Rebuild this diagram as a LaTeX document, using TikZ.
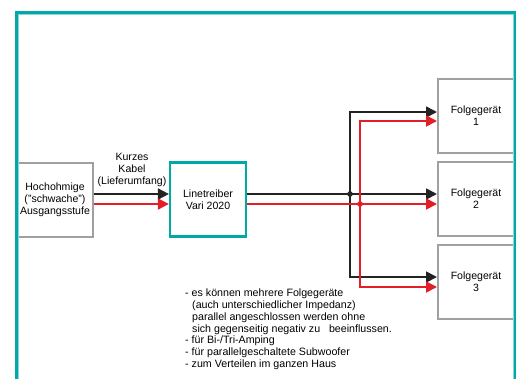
\documentclass[tikz,border=0pt]{standalone}
\usepackage{fontspec}
\setmainfont{Liberation Sans}
\usetikzlibrary{arrows.meta}
\definecolor{teal1}{RGB}{0,168,168}
\definecolor{gray1}{RGB}{160,160,160}
\definecolor{red1}{RGB}{228,30,38}
\definecolor{blk1}{RGB}{35,35,35}
\tikzset{
  box/.style={draw=gray1, line width=2bp, fill=white, minimum width=76bp, minimum height=74bp, inner sep=0pt, align=center, font=\fontsize{10.6}{12}\selectfont},
  tbox/.style={box, draw=teal1, line width=2.2bp},
  tip/.style={-{Triangle[length=11bp,width=11bp]}},
  tips/.style={{Triangle[length=11bp,width=11bp]}-{Triangle[length=11bp,width=11bp]}},
  blk/.style={draw=blk1, line width=1.8bp},
  rd/.style={draw=red1, line width=1.8bp},
  lbl/.style={align=center, inner sep=0pt, font=\fontsize{10.6}{12}\selectfont}
}
\begin{document}
\begin{tikzpicture}[x=1bp, y=-1bp]
\useasboundingbox (0,0) rectangle (520,378);
\clip (0,0) rectangle (520,378);
% boxes
\node[box] (src) at (55,199.5) {Hochohmige\\(\char`\"schwache\char`\")\\Ausgangsstufe};
\node[tbox] (lt) at (208,199.5) {Linetreiber\\Vari 2020};
\node[box] (f1) at (476,116) {Folgeger\"at\\1};
\node[box] (f2) at (476,199) {Folgeger\"at\\2};
\node[box] (f3) at (476,282) {Folgeger\"at\\3};
\node[lbl] (kab) at (132,170) {Kurzes\\Kabel\\(Lieferumfang)};
% cable to linetreiber
\draw[blk, tip] (src.east |- 0,194) -- (lt.west |- 0,194);
\draw[rd, tip] (src.east |- 0,204) -- (lt.west |- 0,204);
% distribution
\coordinate (jb) at (350,194);
\coordinate (jr) at (360,204);
\draw[blk, tips, line join=miter] (f1.west |- 0,112) -- (jb |- 0,112) -- (jb |- 0,277) -- (f3.west |- 0,277);
\draw[blk, tip] (lt.east |- 0,194) -- (f2.west |- 0,194);
\draw[rd, tips, line join=miter] (f1.west |- 0,121) -- (jr |- 0,121) -- (jr |- 0,287) -- (f3.west |- 0,287);
\draw[rd, tip] (lt.east |- 0,204) -- (f2.west |- 0,204);
\fill[blk1] (jb) circle (2.8bp);
\fill[red1] (jr) circle (2.8bp);
% text
\node[lbl, align=left, anchor=north west, font=\fontsize{10.7}{11.8}\selectfont] (txt) at (185,289)
{- es k\"onnen mehrere Folgeger\"ate\\
\hspace*{7bp}(auch unterschiedlicher Impedanz)\\
\hspace*{7bp}parallel angeschlossen werden ohne\\
\hspace*{7bp}sich gegenseitig negativ zu\ \ \ beeinflussen.\\
- f\"ur Bi-/Tri-Amping\\
- f\"ur parallelgeschaltete Subwoofer\\
- zum Verteilen im ganzen Haus};
% frame
\draw[teal1, line width=2.2bp] (16.5,400) -- (16.5,12.5) -- (514.5,12.5) -- (514.5,400);
\draw[teal1!45, line width=0.6bp] (18.2,400) -- (18.2,14.2) -- (512.8,14.2) -- (512.8,400);
\end{tikzpicture}
\end{document}
